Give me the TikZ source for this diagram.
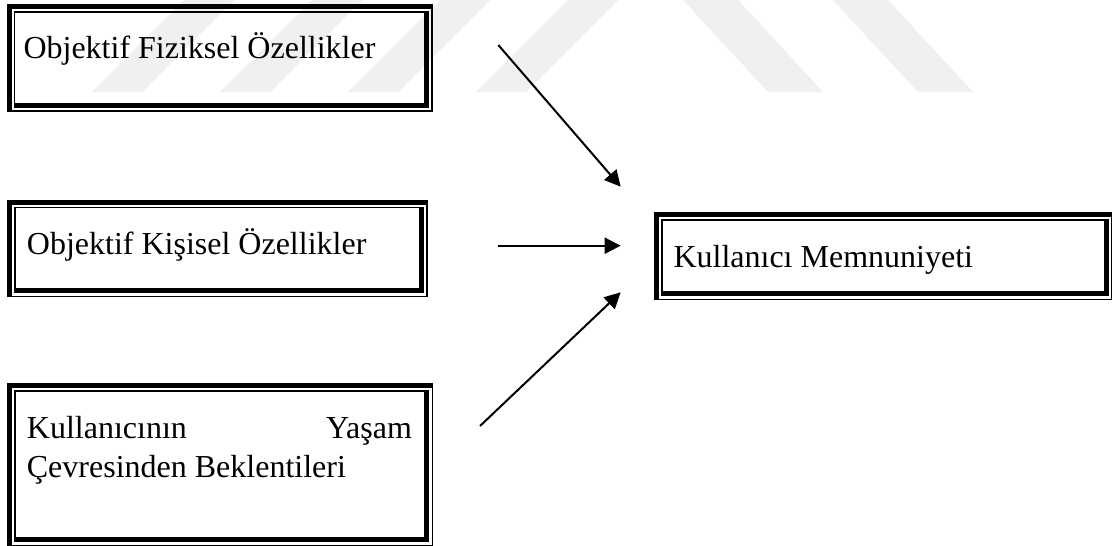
\documentclass[tikz,border=0pt]{standalone}
\usepackage{fontspec}
\setmainfont{Liberation Serif}
\usetikzlibrary{arrows.meta}

\tikzset{
  % thick-thin double frame: thick outside on top/left, thick inside on bottom/right
  dframe/.style={rectangle, inner sep=0pt, anchor=north west,
    path picture={
      \fill (path picture bounding box.north west) rectangle ([yshift=-5pt]path picture bounding box.north east);
      \fill (path picture bounding box.north west) rectangle ([xshift=5pt]path picture bounding box.south west);
      \fill ([yshift=1.6pt]path picture bounding box.south west) rectangle (path picture bounding box.south east);
      \fill ([xshift=-1.6pt]path picture bounding box.north east) rectangle (path picture bounding box.south east);
      \fill ([shift={(7pt,-7pt)}]path picture bounding box.north west) rectangle ([shift={(-4.2pt,-8.6pt)}]path picture bounding box.north east);
      \fill ([shift={(7pt,-7pt)}]path picture bounding box.north west) rectangle ([shift={(8.6pt,4.2pt)}]path picture bounding box.south west);
      \fill ([shift={(-9.2pt,-7pt)}]path picture bounding box.north east) rectangle ([shift={(-4.2pt,4.2pt)}]path picture bounding box.south east);
      \fill ([shift={(7pt,9.2pt)}]path picture bounding box.south west) rectangle ([shift={(-4.2pt,4.2pt)}]path picture bounding box.south east);
    }},
  lbl/.style={inner sep=0pt, anchor=base west, font=\fontsize{32}{39}\selectfont},
  link/.style={line width=2pt, -{Triangle[length=16pt,width=16pt]}},
  wmband/.style={fill=black!6}
}

\begin{document}
\begin{tikzpicture}[x=1pt, y=-1pt]
  \useasboundingbox (0,0) rectangle (1112,546);
  \fill[white] (0,0) rectangle (1112,546);

  % faint background logo stripes
  \foreach \x in {92,220,348,476}
    \fill[wmband] (\x,92) -- (\x+50,92) -- (\x+142,0) -- (\x+92,0) -- cycle;
  \foreach \x in {683,833}
    \fill[wmband] (\x,0) -- (\x+55,0) -- (\x+140,92) -- (\x+85,92) -- cycle;

  % framed boxes
  \node[dframe, minimum width=426.4pt, minimum height=107.7pt] (fiz) at (6.3,4) {};
  \node[dframe, minimum width=421pt,   minimum height=97.7pt]  (kis) at (6.7,199.3) {};
  \node[dframe, minimum width=426.3pt, minimum height=163pt]   (bek) at (6.7,383) {};
  \node[dframe, minimum width=458.5pt, minimum height=88pt]    (mem) at (654,212) {};

  % box texts
  \node[lbl] (fiz-t) at (23.3,58.3) {Objektif Fiziksel Özellikler};
  \node[lbl] (kis-t) at (26.7,254) {Objektif Kişisel Özellikler};
  \node[lbl] (bek-t) at (26.7,438) {\parbox[t]{385pt}{Kullanıcının\hfill Yaşam\\Çevresinden Beklentileri}};
  \node[lbl] (mem-t) at (673.3,267.3) {Kullanıcı Memnuniyeti};

  % arrow end points
  \coordinate (s1) at (498.3,45);
  \coordinate (e1) at (620.7,186.7);
  \coordinate (s2) at (498.3,245.7);
  \coordinate (e2) at (620.7,245.7);
  \coordinate (s3) at (480,426);
  \coordinate (e3) at (620.7,292.3);

  \draw[link] (s1) -- (e1);
  \draw[link] (s2) -- (e2);
  \draw[link] (s3) -- (e3);
\end{tikzpicture}
\end{document}
